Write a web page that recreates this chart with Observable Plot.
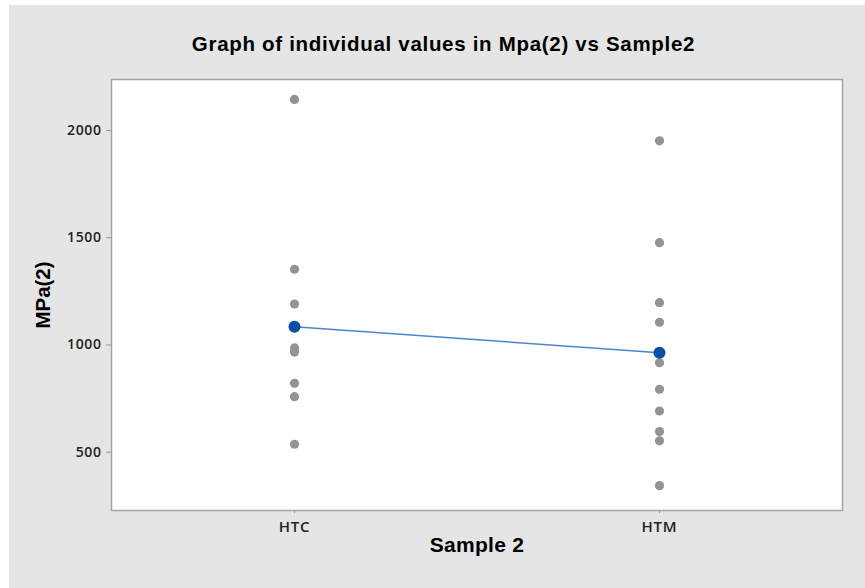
<!DOCTYPE html>
<html><head><meta charset="utf-8">
<script src="https://cdn.jsdelivr.net/npm/d3@7"></script>
<script src="https://cdn.jsdelivr.net/npm/@observablehq/plot@0.6"></script>
<style>
html,body{margin:0;padding:0;background:#fff;}
#chart{position:absolute;left:9px;top:5px;width:856px;height:583px;background:#e5e5e5;}
#chart svg{background:transparent;display:block;}
</style></head><body><div id="chart"></div>
<script>
const categories = ["HTC", "HTM"];
const htcValues = [2145, 1353, 1191, 986, 967, 821, 759, 537];
const htmValues = [1952, 1477, 1197, 1106, 917, 793, 692, 596, 553, 344];
const meanValues = [1085, 964];
const yTicks = [500, 1000, 1500, 2000];
const titleText = "Graph of individual values in Mpa(2) vs Sample2";
const xLabel = "Sample 2";
const yLabel = "MPa(2)";

const points = [
  ...htcValues.map(v => ({sample: "HTC", value: v})),
  ...htmValues.map(v => ({sample: "HTM", value: v}))
];
const means = categories.map((c, i) => ({sample: c, value: meanValues[i]}));
const boldFont = "'Liberation Sans', Arial, sans-serif";

const plot = Plot.plot({
  width: 856, height: 583,
  marginLeft: 102, marginRight: 23, marginTop: 74, marginBottom: 78,
  style: {background: "transparent", fontFamily: "'Open Sans', sans-serif"},
  x: {type: "point", domain: categories, padding: 0.5},
  y: {domain: [228, 2238]},
  marks: [
    Plot.frame({fill: "white", stroke: "#a3a3a3", strokeWidth: 1.5}),
    Plot.axisY({ticks: yTicks, tickFormat: d => String(d), tickSize: 5, tickPadding: 5, stroke: "#9a9a9a", fill: "#222", fontSize: 14, fontWeight: 600, label: null}),
    Plot.axisX({tickSize: 3, tickPadding: 8, stroke: "#9a9a9a", fill: "#222", fontSize: 15, fontWeight: 600, label: null}),
    Plot.dot(points, {x: "sample", y: "value", r: 4.6, fill: "#939393"}),
    Plot.line(means, {x: "sample", y: "value", stroke: "#4a86d0", strokeWidth: 1.5}),
    Plot.dot(means, {x: "sample", y: "value", r: 6, fill: "#0a4fa3"}),
    Plot.text([titleText], {text: d => d, frameAnchor: "top", dx: -33.5, dy: -35, lineAnchor: "middle", fontSize: 20.5, fontWeight: "bold", fontFamily: boldFont, fill: "#000"}),
    Plot.text([xLabel], {text: d => d, frameAnchor: "bottom", dy: 35, lineAnchor: "middle", fontSize: 21, fontWeight: "bold", fontFamily: boldFont, fill: "#000"}),
    Plot.text([yLabel], {text: d => d, frameAnchor: "left", textAnchor: "middle", dx: -68, rotate: -90, lineAnchor: "middle", fontSize: 20.5, fontWeight: "bold", fontFamily: boldFont, fill: "#000"})
  ]
});
document.getElementById("chart").appendChild(plot);
const svg = d3.select(plot);
svg.selectAll('[aria-label="y-axis tick label"] text').style("letter-spacing", "0.6px");
svg.selectAll('[aria-label="x-axis tick label"] text').style("letter-spacing", "0.8px");
svg.selectAll('[aria-label="text"] text').style("letter-spacing", function() {
  const t = this.textContent;
  return t === titleText ? "0.7px" : t === xLabel ? "0.3px" : "0px";
});
</script></body></html>
